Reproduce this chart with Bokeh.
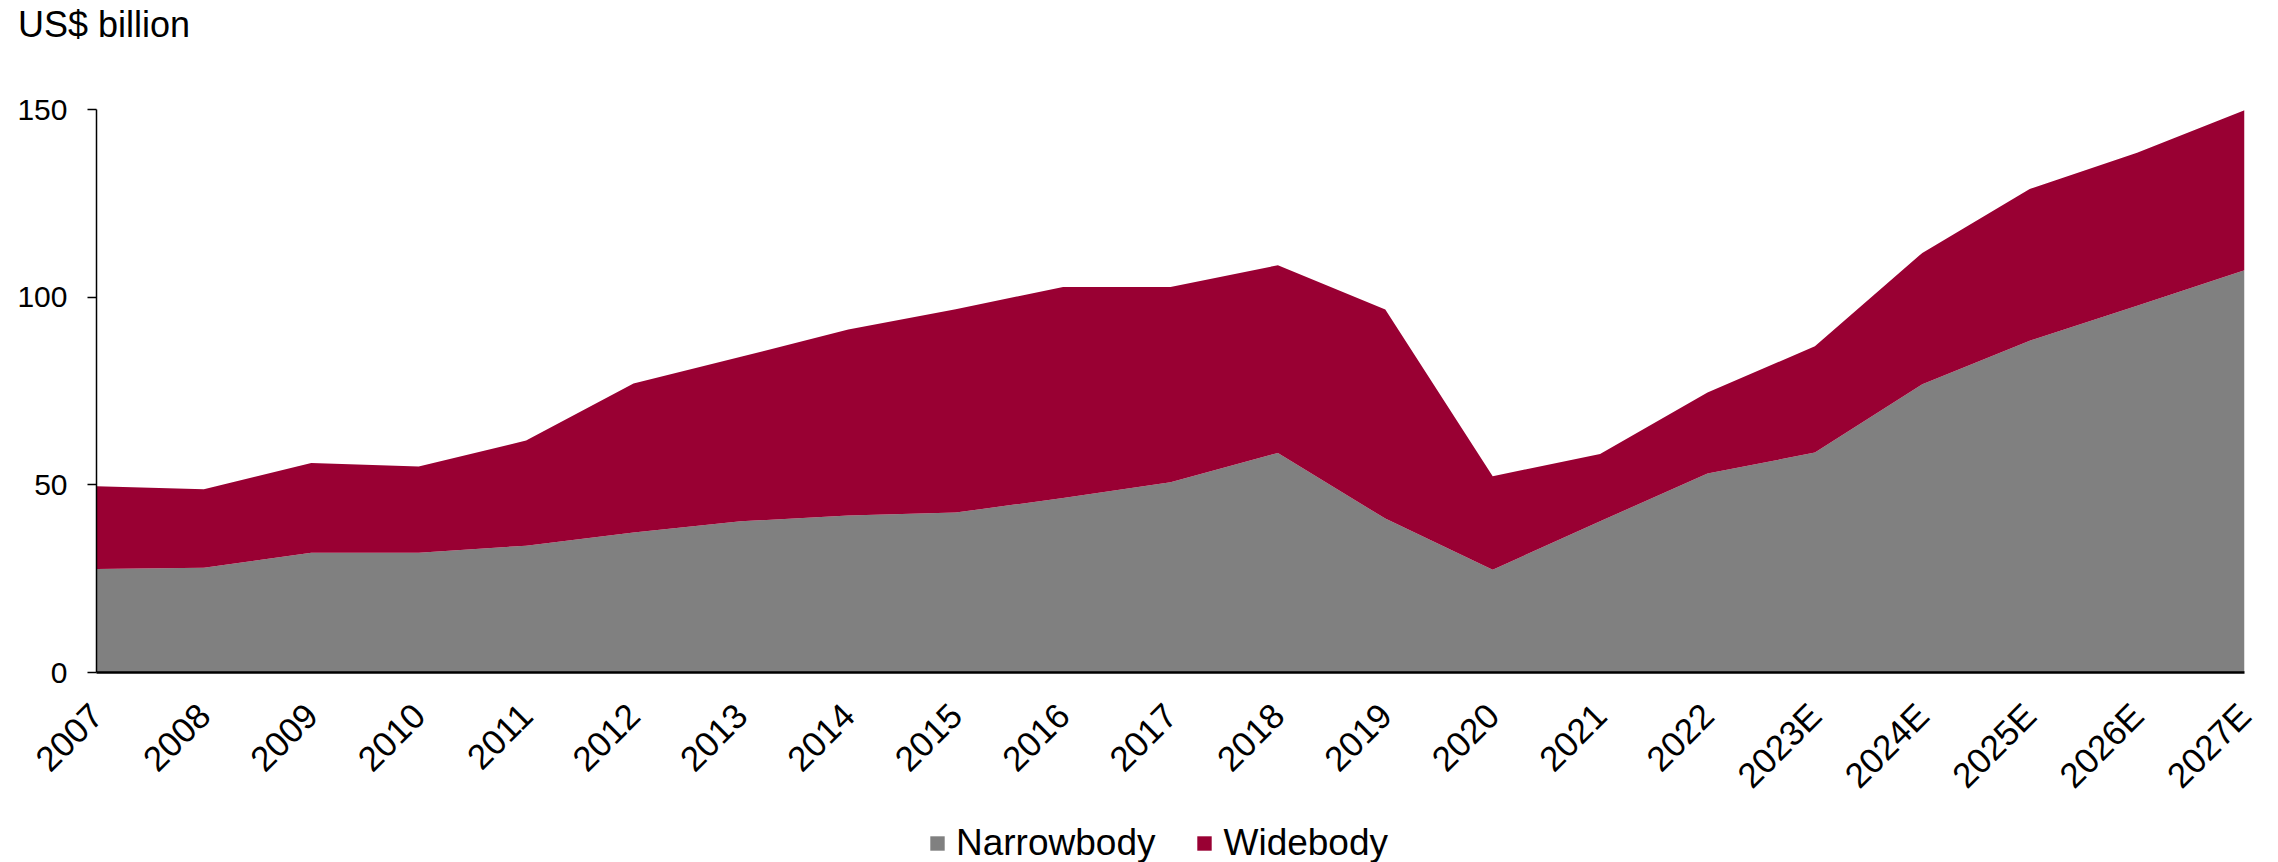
import math
from bokeh.plotting import figure
from bokeh.layouts import column
from bokeh.models import Range1d, FixedTicker, ColumnDataSource, Legend, LegendItem, Div
from bokeh.embed import file_html
from bokeh.resources import INLINE

years = ["2007", "2008", "2009", "2010", "2011", "2012", "2013", "2014", "2015", "2016",
         "2017", "2018", "2019", "2020", "2021", "2022", "2023E", "2024E", "2025E", "2026E", "2027E"]
narrowbody = [27.6, 27.9, 31.9, 31.9, 33.8, 37.3, 40.3, 41.8, 42.6, 46.5,
              50.7, 58.5, 41.0, 27.4, 40.3, 53.0, 58.6, 76.8, 88.4, 97.7, 107.2]
widebody = [22.0, 20.9, 23.9, 23.0, 28.0, 39.7, 43.8, 49.6, 54.2, 56.2,
            52.0, 50.0, 55.7, 24.9, 17.9, 21.6, 28.3, 35.0, 40.4, 40.8, 42.6]
y_ticks = [0, 50, 100, 150]
series_names = ["Narrowbody", "Widebody"]
title_text = "US$ billion"

FONT = "Liberation Sans"
NARROW_COLOR = "#808080"
WIDE_COLOR = "#990033"
W = 2278

xs = list(range(len(years)))
source = ColumnDataSource(data=dict(x=xs, narrowbody=narrowbody, widebody=widebody))

# ---- title ----
TOP_H = 44
title_div = Div(text=title_text, width=W, height=TOP_H, margin=(0, 0, 0, 0),
                styles={"font-family": FONT, "font-size": "36px", "line-height": "36px",
                        "color": "black", "padding-top": "7px", "padding-left": "18px",
                        "box-sizing": "border-box", "white-space": "nowrap"})

# ---- main chart ----
MAIN_H = 768
p = figure(width=W, height=MAIN_H, output_backend="svg", toolbar_location=None,
           x_range=Range1d(0, len(years) - 1), y_range=Range1d(0, 150),
           min_border_left=96, min_border_right=34, min_border_top=65, min_border_bottom=140,
           margin=(0, 0, 0, 0))

p.varea_stack(stackers=["narrowbody", "widebody"], x="x", source=source,
              color=[NARROW_COLOR, WIDE_COLOR])

p.outline_line_color = None
p.xgrid.visible = False
p.ygrid.visible = False

xa = p.xaxis[0]
xa.ticker = FixedTicker(ticks=xs)
xa.major_label_overrides = {i: y for i, y in enumerate(years)}
xa.major_label_orientation = math.pi / 4
xa.major_tick_in = 0
xa.major_tick_out = 0
xa.minor_tick_in = 0
xa.minor_tick_out = 0
xa.axis_line_color = "black"
xa.axis_line_width = 2.5
xa.major_label_text_font = FONT
xa.major_label_text_font_size = "35px"
xa.major_label_text_color = "black"
xa.major_label_standoff = 37

ya = p.yaxis[0]
ya.ticker = FixedTicker(ticks=y_ticks)
ya.major_tick_in = 0
ya.major_tick_out = 9
ya.minor_tick_in = 0
ya.minor_tick_out = 0
ya.axis_line_color = "black"
ya.axis_line_width = 1.5
ya.major_tick_line_width = 1.5
ya.major_label_text_font = FONT
ya.major_label_text_font_size = "30px"
ya.major_label_text_color = "black"
ya.major_label_standoff = 20

# ---- legend strip ----
LEG_H = 50
leg = figure(width=W, height=LEG_H, output_backend="svg", toolbar_location=None,
             x_range=Range1d(0, len(years) - 1), y_range=Range1d(-2, -1),
             x_axis_type=None, y_axis_type=None, min_border=0,
             min_border_left=96, min_border_right=34, margin=(0, 0, 0, 0))
leg.outline_line_color = None
leg.grid.visible = False
leg_r = leg.varea_stack(stackers=["narrowbody", "widebody"], x="x", source=source,
                        color=[NARROW_COLOR, WIDE_COLOR])
legend = Legend(items=[LegendItem(label=series_names[0], renderers=[leg_r[0]]),
                       LegendItem(label=series_names[1], renderers=[leg_r[1]])],
                orientation="horizontal", location=(832, -2))
legend.border_line_color = None
legend.background_fill_alpha = 0
legend.label_text_font = FONT
legend.label_text_font_size = "37px"
legend.label_text_color = "black"
legend.glyph_width = 18
legend.glyph_height = 18
legend.label_standoff = 10
legend.spacing = 40
legend.padding = 0
legend.margin = 0
leg.add_layout(legend, "center")

layout = column(title_div, p, leg, spacing=0)
open("out.html", "w").write(file_html(layout, INLINE))
